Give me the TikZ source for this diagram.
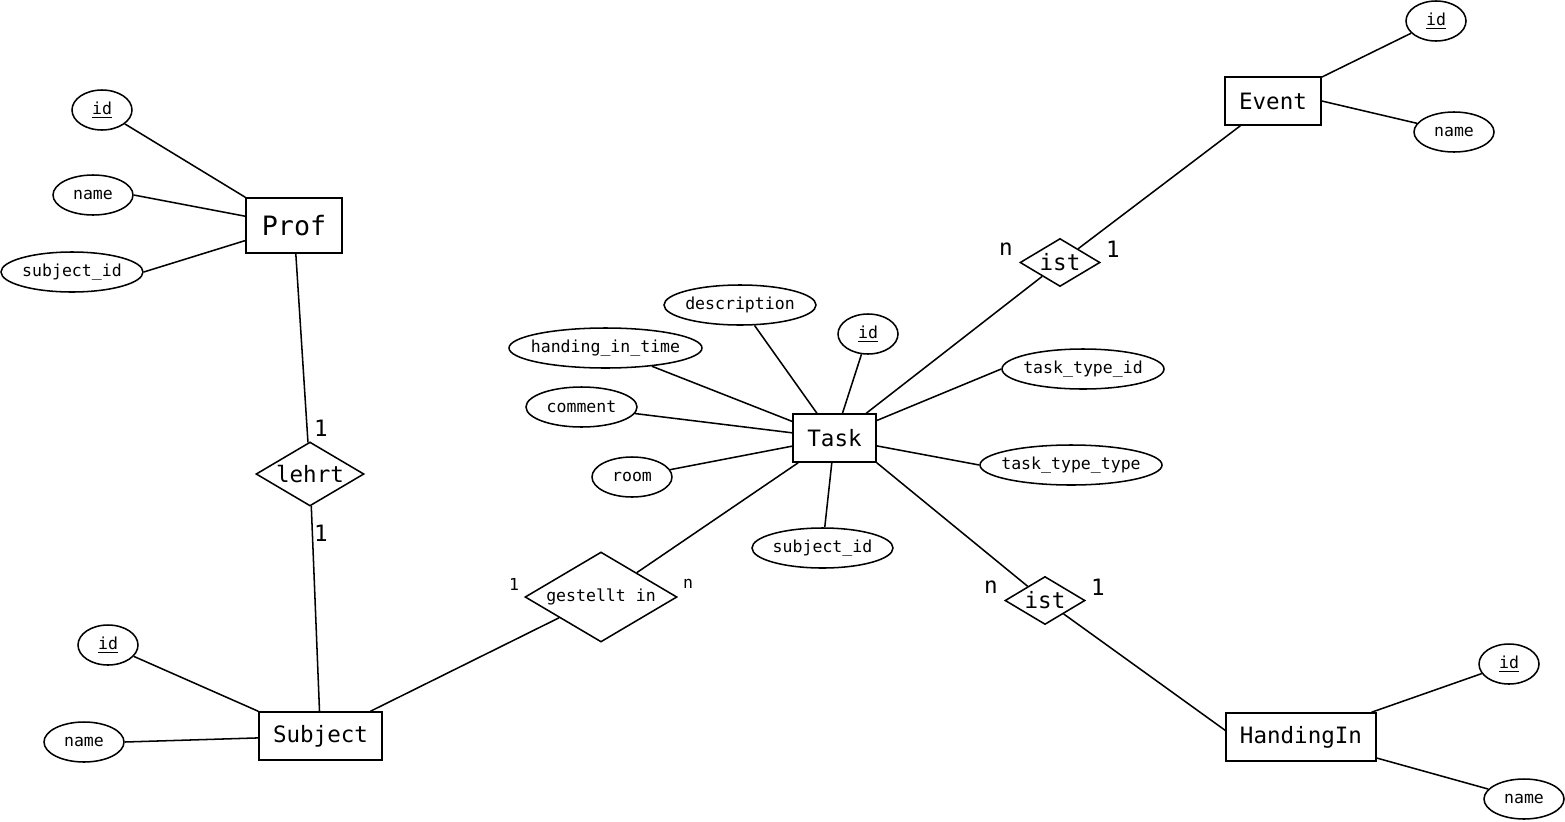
\documentclass[tikz,border=0pt]{standalone}
\usepackage{fontspec}
\setmonofont{DejaVu Sans Mono}
\usetikzlibrary{shapes.geometric}
\tikzset{
  ent/.style={draw,rectangle,line width=1.15pt,inner sep=0pt,minimum height=36pt,font=\ttfamily\fontsize{16.9pt}{20pt}\selectfont},
  att/.style={draw,ellipse,line width=1.15pt,inner xsep=-8pt,inner ysep=0pt,minimum height=30pt,font=\ttfamily\fontsize{12.4pt}{15pt}\selectfont},
  rel/.style={draw,diamond,line width=1.15pt,inner sep=0pt,font=\ttfamily\fontsize{16.9pt}{20pt}\selectfont},
  card/.style={inner sep=0pt,font=\ttfamily\fontsize{16.9pt}{20pt}\selectfont},
  cards/.style={inner sep=0pt,font=\ttfamily\fontsize{12.4pt}{15pt}\selectfont},
  conn/.style={line width=1.15pt}
}
\begin{document}
\begin{tikzpicture}[x=0.75pt,y=-0.75pt]
\useasboundingbox (0,0) rectangle (1565,821);

% Prof
\node[ent,minimum width=72pt,minimum height=41.25pt,font=\ttfamily\fontsize{20pt}{24pt}\selectfont] (prof) at (294,225.5) {Prof};
\node[att,minimum width=45pt] (profid) at (102,110) {\underline{id}};
\node[att,minimum width=60pt] (profname) at (93,195) {name};
\node[att,minimum width=106.5pt] (profsid) at (72,272) {subject\_id};

% lehrt
\node[rel,minimum width=81pt,minimum height=48pt,shape aspect=1.69] (lehrt) at (310,474) {lehrt};
\node[card] (c1) at (321,428) {1};
\node[card] (c2) at (321,533) {1};

% Subject
\node[ent,minimum width=92.25pt] (subject) at (320.5,736) {Subject};
\node[att,minimum width=45pt] (subid) at (108,645) {\underline{id}};
\node[att,minimum width=60pt] (subname) at (84,742) {name};

% gestellt in
\node[rel,minimum width=114pt,minimum height=67.5pt,shape aspect=1.69,font=\ttfamily\fontsize{12.4pt}{15pt}\selectfont] (gest) at (601,597) {gestellt in};
\node[cards] (c3) at (514,584) {1};
\node[cards] (c4) at (688,584) {n};

% Task
\node[ent,minimum width=62.25pt] (task) at (834.5,438) {Task};
\node[att,minimum width=114pt] (tdesc) at (740,305) {description};
\node[att,minimum width=144.75pt] (thand) at (605.5,348) {handing\_in\_time};
\node[att,minimum width=45pt] (tid) at (868,334) {\underline{id}};
\node[att,minimum width=83.25pt] (tcomm) at (581.5,407) {comment};
\node[att,minimum width=60pt] (troom) at (632,477) {room};
\node[att,minimum width=105.75pt] (tsid) at (822.5,548) {subject\_id};
\node[att,minimum width=121.5pt] (tttid) at (1083,369) {task\_type\_id};
\node[att,minimum width=136.5pt] (tttt) at (1071,465) {task\_type\_type};

% ist (Event)
\node[rel,minimum width=60pt,minimum height=36pt,shape aspect=1.67] (ist1) at (1060,262.5) {ist};
\node[card] (c5) at (1006,249) {n};
\node[card] (c6) at (1113,249) {1};

% Event
\node[ent,minimum width=72pt] (event) at (1273,101) {Event};
\node[att,minimum width=45pt] (evid) at (1436,21) {\underline{id}};
\node[att,minimum width=60pt] (evname) at (1454,132) {name};

% ist (HandingIn)
\node[rel,minimum width=60pt,minimum height=36pt,shape aspect=1.67] (ist2) at (1045,600.5) {ist};
\node[card] (c7) at (991,587) {n};
\node[card] (c8) at (1098,587) {1};

% HandingIn
\node[ent,minimum width=112.5pt] (hand) at (1301,737) {HandingIn};
\node[att,minimum width=45pt] (hid) at (1509,664) {\underline{id}};
\node[att,minimum width=60pt] (hname) at (1524,799) {name};

% connectors
\draw[conn] (profid) -- (prof.north west);
\draw[conn] (profname.east) -- (prof);
\draw[conn] (profsid.east) -- (prof);
\draw[conn] (prof) -- (lehrt);
\draw[conn] (lehrt) -- (subject);
\draw[conn] (subid) -- (subject.north west);
\draw[conn] (subname.east) -- (subject);
\draw[conn] (subject) -- (gest);
\draw[conn] (gest) -- (task);
\draw[conn] (tdesc) -- (task);
\draw[conn] (thand) -- (task);
\draw[conn] (tid) -- (task);
\draw[conn] (tcomm) -- (task);
\draw[conn] (troom) -- (task);
\draw[conn] (tsid) -- (task);
\draw[conn] (tttid.west) -- (task);
\draw[conn] (tttt.west) -- (task);
\draw[conn] (task) -- (ist1);
\draw[conn] (ist1) -- (event);
\draw[conn] (event) -- (evid);
\draw[conn] (event.east) -- (evname);
\draw[conn] (task.south east) -- (ist2);
\draw[conn] (ist2) -- (hand.175);
\draw[conn] (hand) -- (hid);
\draw[conn] (hand) -- (hname);
\end{tikzpicture}
\end{document}
